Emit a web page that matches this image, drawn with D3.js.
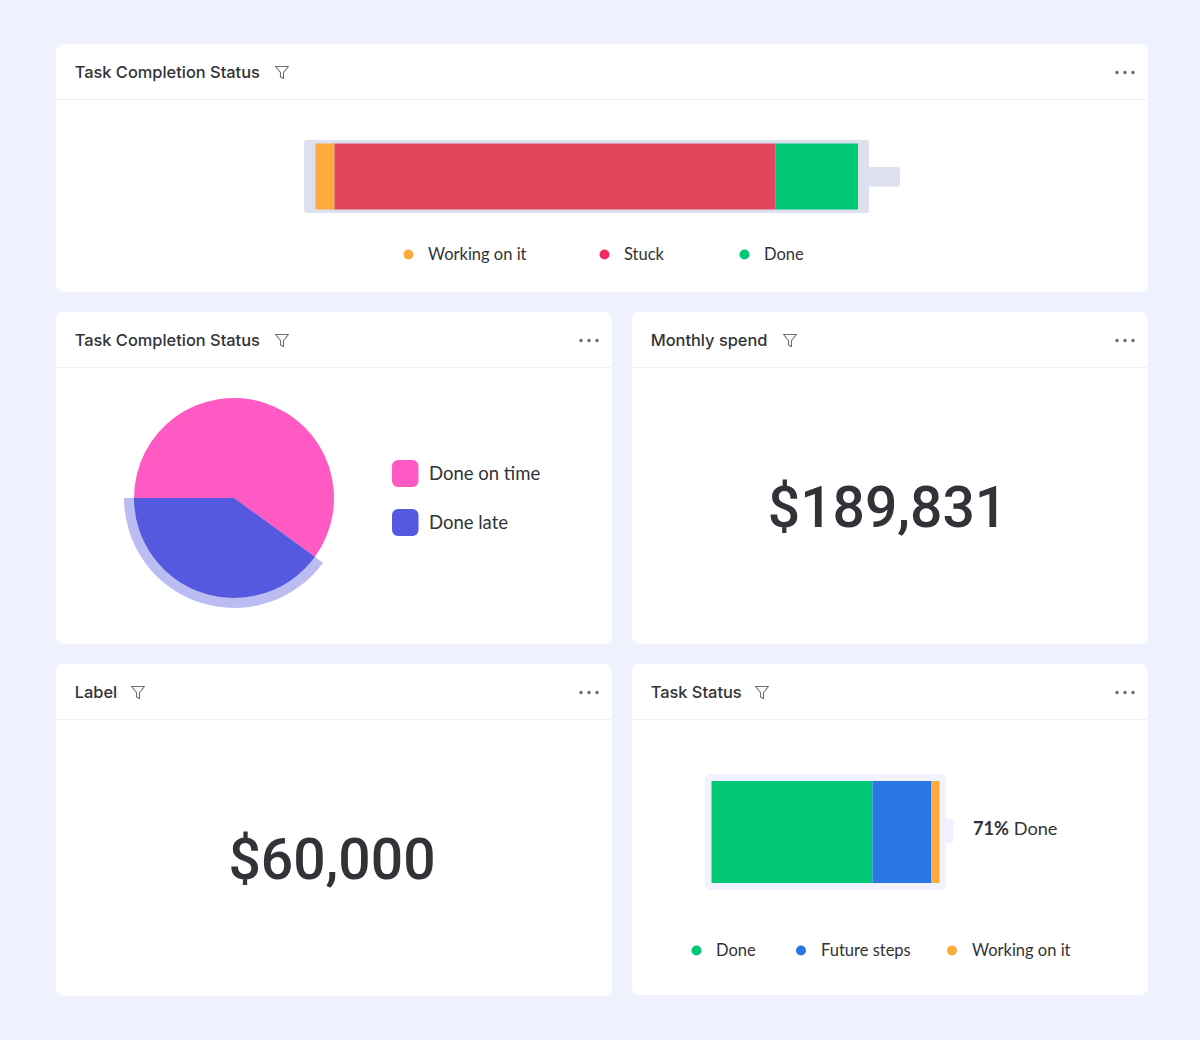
<!DOCTYPE html>
<html><head><meta charset="utf-8">
<script src="https://cdn.jsdelivr.net/npm/d3@7"></script>
<style>html,body{margin:0;padding:0;background:#f0f3ff}svg{display:block}</style>
</head><body><svg id="c" width="1200" height="1040"></svg>
<script>
const cardTitles = ["Task Completion Status","Task Completion Status","Monthly spend","Label","Task Status"];
const batteryLabels = ["Working on it","Stuck","Done"];
const batteryValues = [3.5,81.3,15.2];
const batteryColors = ["#fdab3d","#e2445c","#00c875"];
const batteryLegendColors = ["#fdab3d","#f2295f","#00c875"];
const pieLabels = ["Done on time","Done late"];
const pieValues = [60,40];
const pieColors = ["#ff5ac4","#5559df"];
const monthlySpend = "$189,831";
const labelValue = "$60,000";
const statusLabels = ["Done","Future steps","Working on it"];
const statusValues = [70.6,25.7,3.7];
const statusColors = ["#00c875","#2b76e5","#fdab3d"];
const statusCaptionValue = "71%";
const statusCaptionLabel = " Done";

const svg = d3.select("#c");
const TITLE_FONT = "Inter, sans-serif", BODY_FONT = "Lato, sans-serif", NUM_FONT = "Roboto, sans-serif";
const cards = [
 {x:56,y:44,w:1092,h:248,t:0,filter:282},
 {x:56,y:312,w:556,h:332,t:1,filter:282},
 {x:632,y:312,w:516,h:332,t:2,filter:790},
 {x:56,y:664,w:556,h:332,t:3,filter:138},
 {x:632,y:664,w:516,h:331,t:4,filter:762}
];
cards.forEach(c=>{
  const g = svg.append("g");
  g.append("rect").attr("x",c.x).attr("y",c.y).attr("width",c.w).attr("height",c.h).attr("rx",8).attr("fill","#fff");
  g.append("line").attr("x1",c.x).attr("x2",c.x+c.w).attr("y1",c.y+55.5).attr("y2",c.y+55.5).attr("stroke","#f0f1f6");
  g.append("text").attr("x",c.x+18.7).attr("y",c.y+34).attr("font-family",TITLE_FONT).attr("font-size",16.4).attr("font-weight",500)
    .attr("fill","#323338").text(cardTitles[c.t]);
  const fy=c.y+22;
  g.append("path").attr("transform",`translate(${c.filter-7},${fy})`)
    .attr("d","M0.5 0.5H13.5L8.5 6.5V12.5L5.5 11V6.5Z").attr("fill","none").attr("stroke","#6b6d77").attr("stroke-width",1.1).attr("stroke-linejoin","round");
  [-8,0,8].forEach(d=>g.append("circle").attr("cx",c.x+c.w-23+d).attr("cy",c.y+28.5).attr("r",1.7).attr("fill","#676879"));
});

function stack(vals){ let s=0; return vals.map(v=>{const r={a:s,b:s+v};s+=v;return r;}); }
function legend(labels,colors,xs,tx,y){
  labels.forEach((l,i)=>{
    svg.append("circle").attr("cx",xs[i]).attr("cy",y).attr("r",5).attr("fill",colors[i]);
    svg.append("text").attr("x",tx[i]).attr("y",y+5.8).attr("font-family",BODY_FONT).attr("font-size",16.5).attr("fill","#323338").text(l);
  });
}

// top battery
svg.append("rect").attr("x",304).attr("y",140).attr("width",565).attr("height",73).attr("rx",3).attr("fill","#dde0ee");
svg.append("rect").attr("x",866).attr("y",167).attr("width",34).attr("height",19.5).attr("rx",3).attr("fill","#dde0ee");
const xTop = d3.scaleLinear().domain([0,100]).range([315.5,858]);
svg.append("g").selectAll("rect").data(stack(batteryValues)).join("rect")
  .attr("x",d=>xTop(d.a)).attr("width",d=>xTop(d.b)-xTop(d.a)).attr("y",143.5).attr("height",66).attr("fill",(d,i)=>batteryColors[i]);
legend(batteryLabels,batteryLegendColors,[408.5,604.5,744.5],[428,624,764],254.5);

// pie
const pie = d3.pie().sort(null).startAngle(-Math.PI/2).endAngle(1.5*Math.PI)(pieValues);
const pg = svg.append("g").attr("transform","translate(234,498)");
pg.append("path").attr("d",d3.arc().innerRadius(0).outerRadius(110)(pie[1])).attr("fill",pieColors[1]).attr("opacity",0.4);
pg.selectAll("path.s").data(pie).join("path").attr("class","s").attr("d",d3.arc().innerRadius(0).outerRadius(100)).attr("fill",(d,i)=>pieColors[i]);
pieLabels.forEach((l,i)=>{
  const y=[473.5,522.5][i];
  svg.append("rect").attr("x",392).attr("y",y-13.5).attr("width",26.5).attr("height",27).attr("rx",6).attr("fill",pieColors[i]);
  svg.append("text").attr("x",429).attr("y",y+6).attr("font-family",BODY_FONT).attr("font-size",18.5).attr("fill","#323338").text(l);
});

// numbers
[[monthlySpend,887.5,527],[labelValue,332,879]].forEach(([t,x,y])=>{
  svg.append("text").attr("x",x).attr("y",y).attr("text-anchor","middle").attr("font-family",NUM_FONT).attr("font-size",57).attr("font-weight",500).attr("fill","#323338").text(t);
});

// bottom battery
svg.append("rect").attr("x",705).attr("y",774).attr("width",241).attr("height",116).attr("rx",5).attr("fill","#f0f3ff");
svg.append("rect").attr("x",944).attr("y",819).attr("width",9.5).attr("height",24).attr("rx",3).attr("fill","#f0f3ff");
const xBot = d3.scaleLinear().domain([0,100]).range([711.5,939.5]);
svg.append("g").selectAll("rect").data(stack(statusValues)).join("rect")
  .attr("x",d=>xBot(d.a)).attr("width",d=>xBot(d.b)-xBot(d.a)).attr("y",781).attr("height",102).attr("fill",(d,i)=>statusColors[i]);
const cap = svg.append("text").attr("x",973).attr("y",835).attr("font-family",BODY_FONT).attr("font-size",18.2).attr("fill","#323338");
cap.append("tspan").attr("font-weight",700).text(statusCaptionValue);
cap.append("tspan").text(statusCaptionLabel);
legend(statusLabels,statusColors,[696.5,801,952],[716,821,972],950.5);
</script></body></html>
